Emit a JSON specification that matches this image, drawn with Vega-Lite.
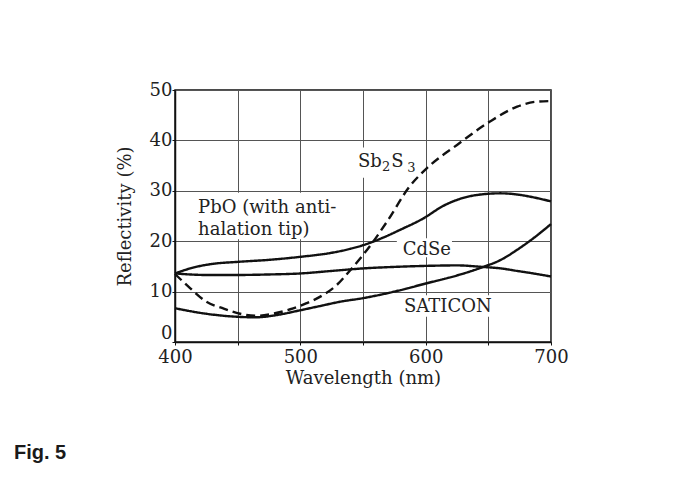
{
  "$schema": "https://vega.github.io/schema/vega-lite/v6.json",
  "width": 376,
  "height": 252,
  "autosize": {"type": "none"},
  "padding": {"left": 175, "top": 90, "right": 123, "bottom": 135},
  "background": "white",
  "title": {
    "text": "Fig. 5",
    "orient": "bottom",
    "anchor": "start",
    "frame": "group",
    "dx": -161,
    "offset": 56,
    "font": "'Liberation Sans Narrow', 'Liberation Sans', sans-serif",
    "fontSize": 20,
    "fontWeight": "bold",
    "color": "#1a1a1a"
  },
  "config": {
    "view": {"stroke": "#111", "strokeWidth": 1.5},
    "axis": {
      "labelFont": "DejaVu Serif",
      "titleFont": "DejaVu Serif",
      "labelFontSize": 18,
      "titleFontSize": 18,
      "titleFontWeight": "normal",
      "labelColor": "#222",
      "titleColor": "#222",
      "domainColor": "#111",
      "domainWidth": 1.5,
      "tickColor": "#111",
      "tickSize": 3,
      "gridColor": "#555",
      "gridWidth": 1,
      "gridOpacity": 1
    }
  },
  "datasets": {
    "curves": [
      {"series": "PbO", "wl": 400, "r": 13.6},
      {"series": "PbO", "wl": 415, "r": 14.8},
      {"series": "PbO", "wl": 430, "r": 15.5},
      {"series": "PbO", "wl": 450, "r": 15.9},
      {"series": "PbO", "wl": 475, "r": 16.3},
      {"series": "PbO", "wl": 500, "r": 16.9},
      {"series": "PbO", "wl": 525, "r": 17.7},
      {"series": "PbO", "wl": 540, "r": 18.5},
      {"series": "PbO", "wl": 550, "r": 19.2},
      {"series": "PbO", "wl": 565, "r": 20.6},
      {"series": "PbO", "wl": 580, "r": 22.3},
      {"series": "PbO", "wl": 598, "r": 24.5},
      {"series": "PbO", "wl": 614, "r": 27.0},
      {"series": "PbO", "wl": 630, "r": 28.6},
      {"series": "PbO", "wl": 645, "r": 29.3},
      {"series": "PbO", "wl": 660, "r": 29.5},
      {"series": "PbO", "wl": 672, "r": 29.3},
      {"series": "PbO", "wl": 686, "r": 28.7},
      {"series": "PbO", "wl": 700, "r": 27.9},
      {"series": "CdSe", "wl": 400, "r": 13.6},
      {"series": "CdSe", "wl": 425, "r": 13.3},
      {"series": "CdSe", "wl": 450, "r": 13.3},
      {"series": "CdSe", "wl": 475, "r": 13.4},
      {"series": "CdSe", "wl": 500, "r": 13.6},
      {"series": "CdSe", "wl": 525, "r": 14.1},
      {"series": "CdSe", "wl": 550, "r": 14.6},
      {"series": "CdSe", "wl": 575, "r": 14.9},
      {"series": "CdSe", "wl": 600, "r": 15.1},
      {"series": "CdSe", "wl": 625, "r": 15.2},
      {"series": "CdSe", "wl": 645, "r": 14.9},
      {"series": "CdSe", "wl": 660, "r": 14.6},
      {"series": "CdSe", "wl": 673, "r": 14.1},
      {"series": "CdSe", "wl": 686, "r": 13.6},
      {"series": "CdSe", "wl": 700, "r": 13.0},
      {"series": "Sb2S3", "wl": 400, "r": 13.5},
      {"series": "Sb2S3", "wl": 412, "r": 10.7},
      {"series": "Sb2S3", "wl": 425, "r": 8.0},
      {"series": "Sb2S3", "wl": 438, "r": 6.7},
      {"series": "Sb2S3", "wl": 452, "r": 5.6},
      {"series": "Sb2S3", "wl": 465, "r": 5.2},
      {"series": "Sb2S3", "wl": 478, "r": 5.6},
      {"series": "Sb2S3", "wl": 492, "r": 6.5},
      {"series": "Sb2S3", "wl": 505, "r": 7.7},
      {"series": "Sb2S3", "wl": 518, "r": 9.3},
      {"series": "Sb2S3", "wl": 529, "r": 11.3},
      {"series": "Sb2S3", "wl": 540, "r": 14.3},
      {"series": "Sb2S3", "wl": 556, "r": 19.2},
      {"series": "Sb2S3", "wl": 570, "r": 24.2},
      {"series": "Sb2S3", "wl": 587, "r": 30.8},
      {"series": "Sb2S3", "wl": 601, "r": 34.5},
      {"series": "Sb2S3", "wl": 625, "r": 39.1},
      {"series": "Sb2S3", "wl": 651, "r": 43.7},
      {"series": "Sb2S3", "wl": 673, "r": 46.7},
      {"series": "Sb2S3", "wl": 689, "r": 47.7},
      {"series": "Sb2S3", "wl": 700, "r": 47.8},
      {"series": "SATICON", "wl": 400, "r": 6.7},
      {"series": "SATICON", "wl": 425, "r": 5.6},
      {"series": "SATICON", "wl": 450, "r": 5.0},
      {"series": "SATICON", "wl": 465, "r": 4.9},
      {"series": "SATICON", "wl": 480, "r": 5.3},
      {"series": "SATICON", "wl": 500, "r": 6.3},
      {"series": "SATICON", "wl": 515, "r": 7.1},
      {"series": "SATICON", "wl": 532, "r": 8.0},
      {"series": "SATICON", "wl": 550, "r": 8.7},
      {"series": "SATICON", "wl": 575, "r": 10.0},
      {"series": "SATICON", "wl": 600, "r": 11.6},
      {"series": "SATICON", "wl": 625, "r": 13.2},
      {"series": "SATICON", "wl": 646, "r": 14.9},
      {"series": "SATICON", "wl": 660, "r": 16.3},
      {"series": "SATICON", "wl": 673, "r": 18.3},
      {"series": "SATICON", "wl": 686, "r": 20.6},
      {"series": "SATICON", "wl": 700, "r": 23.4}
    ],
    "labelBoxes": [
      {"wl": 416, "wl2": 535.5, "r": 20.4, "r2": 29.6},
      {"wl": 544.5, "wl2": 594, "r": 32.6, "r2": 38.6},
      {"wl": 577, "wl2": 621, "r": 16.8, "r2": 20.6},
      {"wl": 579.5, "wl2": 660, "r": 5.0, "r2": 9.3}
    ],
    "labels": [
      {"label": "PbO (with anti-\nhalation tip)", "wl": 418.4, "r": 25.5},
      {"label": "Sb", "wl": 546, "r": 34.8},
      {"label": "S", "wl": 572.5, "r": 34.8},
      {"label": "CdSe", "wl": 581.7, "r": 17.3},
      {"label": "SATICON", "wl": 582.7, "r": 5.95}
    ],
    "subscripts": [
      {"label": "2", "wl": 565.2, "r": 34.0},
      {"label": "3", "wl": 585.3, "r": 33.8}
    ]
  },
  "encoding": {
    "x": {
      "field": "wl",
      "type": "quantitative",
      "scale": {"domain": [400, 700], "nice": false, "zero": false},
      "axis": {
        "title": "Wavelength (nm)",
        "values": [400, 450, 500, 550, 600, 650, 700],
        "labelExpr": "datum.value % 100 === 0 ? datum.label : ''",
        "labelFlush": false,
        "labelPadding": 3,
        "titlePadding": 3
      }
    },
    "y": {
      "field": "r",
      "type": "quantitative",
      "scale": {"domain": [0, 50], "nice": false},
      "axis": {
        "title": "Reflectivity (%)",
        "values": [0, 10, 20, 30, 40, 50],
        "labelPadding": 0,
        "titlePadding": 15,
        "labelBaseline": {
          "condition": {"test": "datum.value === 0", "value": "bottom"},
          "value": "middle"
        }
      }
    }
  },
  "layer": [
    {
      "data": {"name": "labelBoxes"},
      "mark": {"type": "rect", "fill": "white", "stroke": null},
      "encoding": {
        "x2": {"field": "wl2"},
        "y2": {"field": "r2"}
      }
    },
    {
      "data": {"name": "curves"},
      "mark": {"type": "line", "interpolate": "monotone", "strokeWidth": 2.4, "color": "#111"},
      "encoding": {
        "detail": {"field": "series", "type": "nominal"},
        "strokeDash": {
          "field": "series",
          "type": "nominal",
          "scale": {
            "domain": ["PbO", "CdSe", "Sb2S3", "SATICON"],
            "range": [[1, 0], [1, 0], [9, 5], [1, 0]]
          },
          "legend": null
        }
      }
    },
    {
      "data": {"name": "labels"},
      "mark": {
        "type": "text",
        "font": "DejaVu Serif",
        "fontSize": 18,
        "align": "left",
        "baseline": "alphabetic",
        "lineBreak": "\n",
        "lineHeight": 22,
        "color": "#222"
      },
      "encoding": {"text": {"field": "label"}}
    },
    {
      "data": {"name": "subscripts"},
      "mark": {
        "type": "text",
        "font": "DejaVu Serif",
        "fontSize": 13,
        "align": "left",
        "baseline": "alphabetic",
        "color": "#222"
      },
      "encoding": {"text": {"field": "label"}}
    }
  ]
}
